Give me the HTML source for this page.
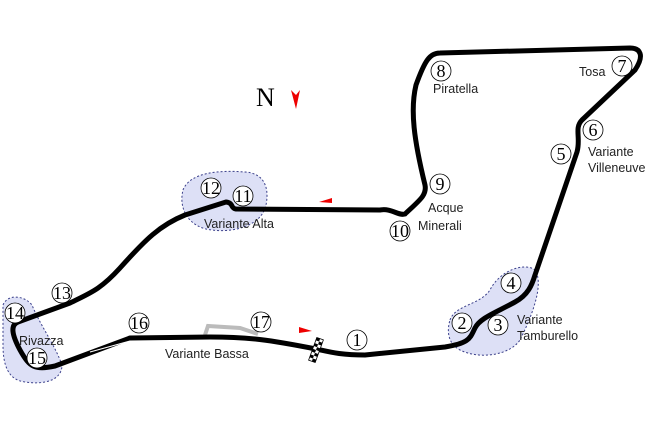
<!DOCTYPE html>
<html><head><style>body{margin:0;background:#fff}svg{display:block}</style></head><body>
<svg width="650" height="433" viewBox="0 0 650 433" xmlns="http://www.w3.org/2000/svg" font-family="Liberation Sans, sans-serif">
<g fill="#dde0f6" stroke="#3a3f8a" stroke-width="1" stroke-dasharray="2,2">
<path d="M183,190 C190,172 220,170 245,172 C262,173 270,185 266,205 C262,225 235,233 212,230 C190,228 178,210 183,190 Z"/>
<path d="M3,305 C8,293 25,296 32,305 C40,325 55,345 62,365 C62,380 45,385 25,382 C8,380 3,365 3,345 Z"/>
<path d="M450,320 C455,305 480,305 490,290 C500,270 525,262 535,270 C545,285 530,320 520,340 C510,355 480,360 460,350 C447,343 447,330 450,320 Z"/>
</g>
<path d="M205,335 L208,326 L240,328 L258,334" fill="none" stroke="#bbb" stroke-width="4"/>
<path d="M316,349 C330,352 340,355 365,355 L445,347 C470,343 470,338 475,328 C480,318 495,313 515,302 C528,295 532,285 535,275 L577,152 C581,138 574,128 582,120 L635,70 C645,55 640,48 630,48 L440,53 C430,53 425,60 416,85 C410,110 414,140 425,185 C427,195 420,200 405,214 C398,216 392,208 380,210 L236,209 C230,208 234,203 226,202 L185,215 C160,225 145,240 120,268 C100,290 90,293 70,303 L18,322 C10,325 12,335 20,350 C30,368 35,370 55,366 L130,338 L210,337 C250,337 270,340 316,349" fill="none" stroke="#000" stroke-width="5" stroke-linejoin="round"/>
<path d="M90,352 L130,341 L210,341 C250,341 270,344 310,352" fill="none" stroke="#fff" stroke-width="1"/>
<g transform="translate(316,350) rotate(20)"><rect x="-3.5" y="-12" width="7" height="24" fill="#fff" stroke="#000" stroke-width="0.8"/>
<g fill="#000"><rect x="-3.5" y="-12" width="3.5" height="3"/><rect x="0" y="-9" width="3.5" height="3"/><rect x="-3.5" y="-6" width="3.5" height="3"/><rect x="0" y="-3" width="3.5" height="3"/><rect x="-3.5" y="0" width="3.5" height="3"/><rect x="0" y="3" width="3.5" height="3"/><rect x="-3.5" y="6" width="3.5" height="3"/><rect x="0" y="9" width="3.5" height="3"/></g></g>
<path d="M319,202 L332,198 L332,203 Z" fill="#e00"/>
<path d="M299,327 L312,331 L299,333 Z" fill="#e00"/>
<path d="M291,90 L296,109 L300,90 L296,95 Z" fill="#e00"/>
<text x="256" y="106" font-family="Liberation Serif, serif" font-size="26">N</text>
<g fill="#fff" stroke="#000" stroke-width="0.8">
<circle cx="357" cy="340" r="10"/><circle cx="462" cy="323" r="10"/><circle cx="498" cy="325" r="10"/><circle cx="511" cy="283" r="10"/><circle cx="561" cy="154" r="10"/><circle cx="593" cy="130" r="10"/><circle cx="622" cy="66" r="10"/><circle cx="441" cy="71" r="10"/><circle cx="440" cy="184" r="10"/><circle cx="400" cy="231" r="10"/><circle cx="243" cy="196" r="10"/><circle cx="211" cy="188" r="10"/><circle cx="62" cy="293" r="10"/><circle cx="15" cy="313" r="10"/><circle cx="37" cy="358" r="10"/><circle cx="139" cy="323" r="10"/><circle cx="261" cy="322" r="10"/>
</g>
<g font-family="Liberation Serif, serif" font-size="18" text-anchor="middle">
<text x="357" y="346">1</text><text x="462" y="329">2</text><text x="498" y="331">3</text><text x="511" y="289">4</text><text x="561" y="160">5</text><text x="593" y="136">6</text><text x="622" y="72">7</text><text x="441" y="77">8</text><text x="440" y="190">9</text><text x="400" y="237">10</text><text x="243" y="202">11</text><text x="211" y="194">12</text><text x="62" y="299">13</text><text x="15" y="319">14</text><text x="37" y="364">15</text><text x="139" y="329">16</text><text x="261" y="328">17</text>
</g>
<g font-size="12.5" fill="#222">
<text x="204" y="228">Variante Alta</text>
<text x="19" y="345">Rivazza</text>
<text x="165" y="358">Variante Bassa</text>
<text x="517" y="324">Variante</text><text x="517" y="340">Tamburello</text>
<text x="588" y="156">Variante</text><text x="588" y="172">Villeneuve</text>
<text x="579" y="76">Tosa</text>
<text x="433" y="93">Piratella</text>
<text x="428" y="212">Acque</text><text x="418" y="230">Minerali</text>
</g>
</svg>
</body></html>
